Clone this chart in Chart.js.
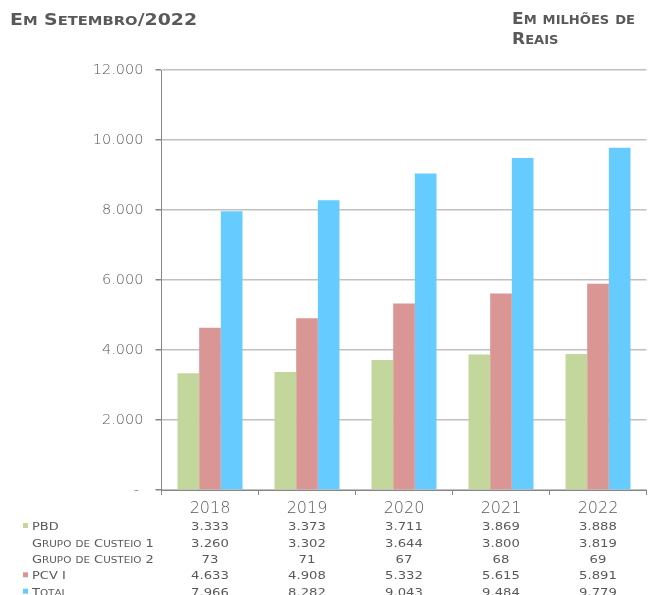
<!DOCTYPE html>
<html>
<head>
<meta charset="utf-8">
<script src="https://cdn.jsdelivr.net/npm/chart.js@4.4.1/dist/chart.umd.min.js"></script>
<style>
  html, body { margin: 0; padding: 0; background: #ffffff; }
  #wrap { width: 648px; height: 595px; position: relative; }
</style>
</head>
<body>
<div id="wrap"><canvas id="c" width="648" height="595"></canvas></div>
<script>
// ---- data ----
const categories = ['2018', '2019', '2020', '2021', '2022'];
const pbd = [3333, 3373, 3711, 3869, 3888];
const grupoCusteio1 = [3260, 3302, 3644, 3800, 3819];
const grupoCusteio2 = [73, 71, 67, 68, 69];
const pcvI = [4633, 4908, 5332, 5615, 5891];
const total = [7966, 8282, 9043, 9484, 9779];
const yTicks = [0, 2000, 4000, 6000, 8000, 10000, 12000];
const titleLeft = 'Em Setembro/2022';
const titleRight1 = 'Em milhões de';
const titleRight2 = 'Reais';

// ---- styles ----
const C_GREEN = '#c3d69b';
const C_PINK = '#d99694';
const C_BLUE = '#66ccff';
const TXT = '#595959';
const FAM = '"DejaVu Sans", sans-serif';
const LIGHT = '200';

function fmt(v) {
  return String(v).replace(/\B(?=(\d{3})+(?!\d))/g, '.');
}

function drawSmallCaps(ctx, text, x, y, big, small, weight, targetW, align, sxFixed) {
  const parts = [];
  let w = 0;
  for (const ch of text) {
    const lower = ch !== ch.toUpperCase();
    const size = lower ? small : big;
    const c = ch.toUpperCase();
    ctx.font = weight + ' ' + size + 'px ' + FAM;
    const cw = ctx.measureText(c).width;
    parts.push({ c, size, cw });
    w += cw;
  }
  const sx = sxFixed ? sxFixed : (targetW ? targetW / w : 1);
  let x0 = x;
  if (align === 'center') x0 = x - w * sx / 2;
  else if (align === 'right') x0 = x - w * sx;
  ctx.save();
  ctx.translate(x0, y);
  ctx.scale(sx, 1);
  ctx.textAlign = 'left';
  ctx.textBaseline = 'alphabetic';
  let cx = 0;
  for (const p of parts) {
    ctx.font = weight + ' ' + p.size + 'px ' + FAM;
    ctx.fillText(p.c, cx, 0);
    cx += p.cw;
  }
  ctx.restore();
}

const tablePlugin = {
  id: 'tablePlugin',
  afterDraw(chart) {
    const ctx = chart.ctx;
    const xs = chart.scales.x;
    ctx.save();
    ctx.fillStyle = TXT;

    // titles
    drawSmallCaps(ctx, titleLeft, 10, 25, 16, 12.5, 'bold', 187, 'left');
    drawSmallCaps(ctx, titleRight1, 512, 24, 15, 11.5, 'bold', 123, 'left');
    drawSmallCaps(ctx, titleRight2, 512, 43.5, 15, 11.5, 'bold', 46.5, 'left');

    // year labels
    ctx.font = LIGHT + ' 16px ' + FAM;
    ctx.textAlign = 'center';
    ctx.textBaseline = 'alphabetic';
    categories.forEach((c, i) => {
      ctx.fillText(c, xs.getPixelForValue(i), 513);
    });

    // data table
    const rows = [
      { label: 'PBD', data: pbd, color: C_GREEN },
      { label: 'Grupo de Custeio 1', data: grupoCusteio1, color: null },
      { label: 'Grupo de Custeio 2', data: grupoCusteio2, color: null },
      { label: 'PCV I', data: pcvI, color: C_PINK },
      { label: 'Total', data: total, color: C_BLUE }
    ];
    const baselines = [530, 546.5, 563, 579.3, 595.7];
    rows.forEach((r, ri) => {
      const by = baselines[ri];
      if (r.color) {
        ctx.fillStyle = r.color;
        ctx.fillRect(23, by - 7, 5, 5);
      }
      ctx.fillStyle = TXT;
      drawSmallCaps(ctx, r.label, 32, by, 11, 8.8, 'normal', null, 'left', 1.18);
      r.data.forEach((v, i) => {
        const cx = xs.getPixelForValue(i);
        drawSmallCaps(ctx, fmt(v), cx, by, 11, 11, 'normal', null, 'center', 1.2);
      });
    });
    ctx.restore();
  }
};

new Chart(document.getElementById('c'), {
  type: 'bar',
  data: {
    labels: categories,
    datasets: [
      { label: 'PBD', data: pbd, backgroundColor: C_GREEN, borderWidth: 0 },
      { label: 'PCV I', data: pcvI, backgroundColor: C_PINK, borderWidth: 0 },
      { label: 'Total', data: total, backgroundColor: C_BLUE, borderWidth: 0 }
    ]
  },
  options: {
    responsive: false,
    devicePixelRatio: 1,
    animation: false,
    layout: { padding: { top: 70, right: 1.5, left: 0, bottom: 0 } },
    datasets: { bar: { categoryPercentage: 0.67, barPercentage: 1.0 } },
    plugins: {
      legend: { display: false },
      tooltip: { enabled: false },
      title: { display: false }
    },
    scales: {
      x: {
        grid: {
          display: true,
          offset: true,
          drawOnChartArea: false,
          drawTicks: true,
          tickLength: 5,
          tickColor: '#868686',
          lineWidth: 1
        },
        border: { display: true, color: '#868686', width: 1 },
        ticks: { display: false },
        afterFit(scale) { scale.height = 105; }
      },
      y: {
        min: 0,
        max: 12000,
        afterBuildTicks(scale) { scale.ticks = yTicks.map(v => ({ value: v })); },
        grid: {
          color: '#c0c0c0',
          lineWidth: 1.5,
          drawTicks: true,
          tickLength: 6,
          tickColor: '#868686'
        },
        border: { display: true, color: '#868686', width: 1 },
        ticks: {
          padding: 12,
          color: TXT,
          font: { family: 'DejaVu Sans', size: 14.5, weight: LIGHT },
          callback: (v) => v === 0 ? '- ' : fmt(v)
        },
        afterFit(scale) { scale.width = 161.5; }
      }
    }
  },
  plugins: [tablePlugin]
});
</script>
</body>
</html>
